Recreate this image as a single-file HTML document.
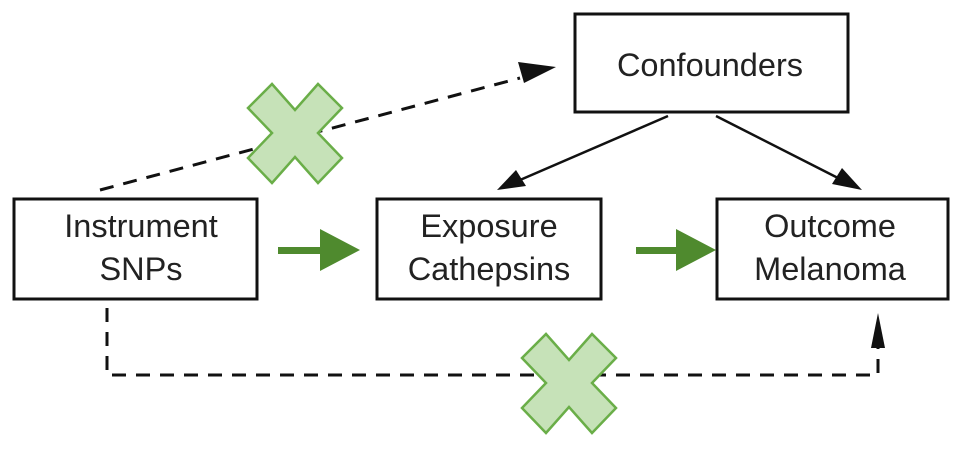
<!DOCTYPE html>
<html><head><style>body{margin:0;background:#fff}svg{display:block}</style></head><body>
<svg width="969" height="450" viewBox="0 0 969 450" xmlns="http://www.w3.org/2000/svg" font-family="Liberation Sans, sans-serif" font-size="32.5" fill="#222">
<g fill="#fff" stroke="#111" stroke-width="3">
<rect x="575" y="14" width="273" height="98"/>
<rect x="14" y="199" width="243" height="100"/>
<rect x="377" y="199" width="224" height="100"/>
<rect x="717" y="199" width="231" height="100"/>
</g>
<g text-anchor="middle" fill="#222">
<text x="710" y="76">Confounders</text>
<text x="141" y="237">Instrument</text><text x="141" y="280">SNPs</text>
<text x="489" y="237">Exposure</text><text x="489" y="280">Cathepsins</text>
<text x="830" y="237">Outcome</text><text x="830" y="280">Melanoma</text>
</g>
<g stroke="#111" stroke-width="3" fill="none" stroke-dasharray="14,10">
<line x1="100" y1="190" x2="520" y2="78"/>
<polyline points="107,308 107,375 878,375 878,345"/>
</g>
<polygon points="556,67 518,62 524,83" fill="#111"/>
<polygon points="878,313 871,348 885,348" fill="#111"/>
<g stroke="#111" stroke-width="2.5">
<line x1="668" y1="116" x2="520" y2="180"/>
<line x1="716" y1="116" x2="838" y2="178"/>
</g>
<polygon points="497,190 516,170 526,186" fill="#111"/>
<polygon points="862,190 832,184 842,168" fill="#111"/>
<g fill="#4f8a2e">
<rect x="278" y="247" width="45" height="7"/>
<polygon points="320,229 360,250 320,271"/>
<rect x="636" y="247" width="43" height="7"/>
<polygon points="676,229 716,250 676,271"/>
</g>
<g fill="#c6e2b8" stroke="#6aae48" stroke-width="2.5">
<polygon points="248,108 272,84 295,110 318,84 342,108 318,133 342,158 318,183 295,157 272,183 248,158 272,133"/>
<polygon points="522,358 546,334 569,360 592,334 616,358 592,383 616,408 592,433 569,407 546,433 522,408 546,383"/>
</g>
</svg>
</body></html>
